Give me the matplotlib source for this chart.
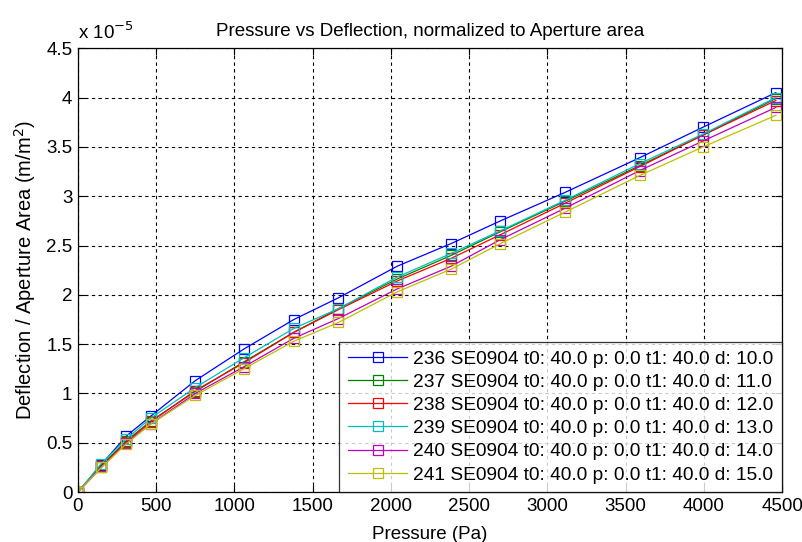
import numpy as np
import matplotlib
matplotlib.use("Agg")
import matplotlib.pyplot as plt
from matplotlib.ticker import FuncFormatter

plt.rcParams['font.family'] = ['Liberation Sans', 'DejaVu Sans']

# pressure points (Pa)
pressure = [0, 150, 310, 465, 750, 1060, 1380, 1665, 2040, 2385, 2700, 3115, 3590, 3995, 4460]

# deflection / aperture area, in units of 1e-5 m/m^2
d236 = [0, 0.28, 0.57, 0.77, 1.13, 1.45, 1.75, 1.97, 2.29, 2.52, 2.75, 3.04, 3.39, 3.70, 4.05]
d237 = [0, 0.27, 0.52, 0.72, 1.02, 1.32, 1.62, 1.86, 2.16, 2.40, 2.64, 2.95, 3.31, 3.62, 3.99]
d238 = [0, 0.26, 0.51, 0.71, 1.03, 1.31, 1.62, 1.85, 2.14, 2.37, 2.61, 2.93, 3.30, 3.62, 3.97]
d239 = [0, 0.29, 0.54, 0.75, 1.06, 1.36, 1.66, 1.86, 2.18, 2.42, 2.65, 2.96, 3.33, 3.63, 4.00]
d240 = [0, 0.25, 0.50, 0.69, 1.00, 1.27, 1.56, 1.76, 2.06, 2.29, 2.56, 2.88, 3.26, 3.56, 3.90]
d241 = [0, 0.25, 0.49, 0.69, 0.98, 1.25, 1.53, 1.72, 2.03, 2.26, 2.52, 2.84, 3.21, 3.50, 3.82]

labels = [
    "236 SE0904 t0: 40.0 p: 0.0 t1: 40.0 d: 10.0",
    "237 SE0904 t0: 40.0 p: 0.0 t1: 40.0 d: 11.0",
    "238 SE0904 t0: 40.0 p: 0.0 t1: 40.0 d: 12.0",
    "239 SE0904 t0: 40.0 p: 0.0 t1: 40.0 d: 13.0",
    "240 SE0904 t0: 40.0 p: 0.0 t1: 40.0 d: 14.0",
    "241 SE0904 t0: 40.0 p: 0.0 t1: 40.0 d: 15.0",
]
series = [d236, d237, d238, d239, d240, d241]
colors = [(0, 0, 1), (0, 0.5, 0), (1, 0, 0), (0, 0.75, 0.75), (0.75, 0, 0.75), (0.75, 0.75, 0)]

SCALE = 1e-5

fig = plt.figure(figsize=(8.03, 5.42), dpi=100)
ax = fig.add_axes([0.097, 0.092, 0.877, 0.819])

for vals, lab, col in zip(series, labels, colors):
    ax.plot(pressure, np.array(vals) * SCALE, color=col, linewidth=0.9,
            marker='s', markersize=7.5, markerfacecolor='none',
            markeredgecolor=col, markeredgewidth=0.9, label=lab)

ax.set_xlim(0, 4500)
ax.set_ylim(0, 4.5 * SCALE)
ax.set_xticks(np.arange(0, 4501, 500))
ax.set_yticks(np.arange(0, 4.51, 0.5) * SCALE)
ax.yaxis.set_major_formatter(FuncFormatter(lambda v, _: f"{v / SCALE:g}"))

ax.grid(True, color='black', linestyle=(0, (3, 3)), linewidth=0.8)
ax.tick_params(direction='in', top=True, right=True, labelsize=13.5, length=5, pad=4)
for sp in ax.spines.values():
    sp.set_linewidth(0.9)

ax.set_xlabel("Pressure (Pa)", fontsize=13.5, labelpad=8)
ax.set_ylabel("Deflection / Aperture Area (m/m$^2$)", fontsize=14.5, labelpad=6)
ax.set_title("Pressure vs Deflection, normalized to Aperture area", fontsize=13.5, pad=9)
ax.text(0.0, 1.012, "x 10$^{-5}$", transform=ax.transAxes, fontsize=13.5, ha='left', va='bottom')

leg = ax.legend(loc='lower right', bbox_to_anchor=(1, 0), borderaxespad=0,
                fontsize=13.8, frameon=True, fancybox=False, edgecolor='black',
                handlelength=3.1, handletextpad=0.3, labelspacing=0.3, borderpad=0.45)
leg.get_frame().set_linewidth(0.9)

fig.savefig("out.png", dpi=100)
